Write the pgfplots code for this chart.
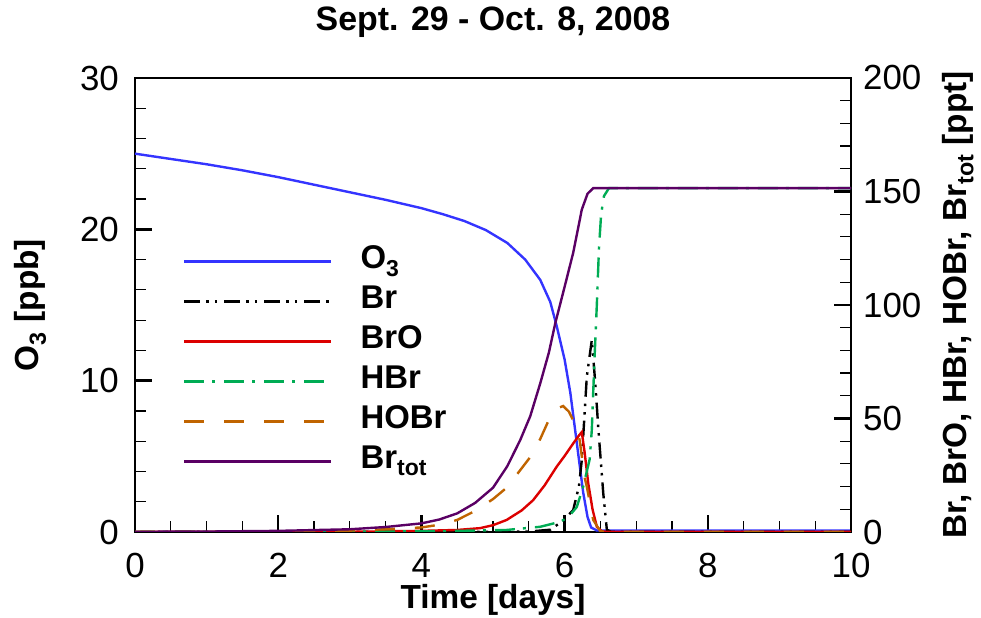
\documentclass[border=0pt]{standalone}
\usepackage{fontspec}
\setmainfont{Liberation Sans}
\usepackage{pgfplots}
\pgfplotsset{compat=1.18}
\definecolor{o3blue}{RGB}{52,52,255}
\definecolor{brored}{RGB}{220,0,0}
\definecolor{hbrgreen}{RGB}{0,172,84}
\definecolor{hobrorange}{RGB}{192,100,0}
\definecolor{brtotpurple}{RGB}{90,0,100}
\pgfplotsset{
  common/.style={
    scale only axis, width=716bp, height=454bp,
    xmin=0, xmax=10,
    /pgf/number format/assume math mode=true,
    tick label style={font=\fontsize{35}{38}\selectfont},
    label style={font=\bfseries\fontsize{33.5}{38}\selectfont},
    major tick length=17bp, minor tick length=11bp,
    every major tick/.append style={line width=2.6bp, black},
    every minor tick/.append style={line width=1.2bp, black},
    axis line style={line width=2.8bp},
    tick align=inside,
  },
  curve/.style={line width=2.4bp},
}
\begin{document}
\begin{tikzpicture}
\path[use as bounding box] (-135bp,-86bp) rectangle (846bp,532bp);
\begin{axis}[common,
  ymin=0, ymax=30,
  xtick={0,2,4,6,8,10}, ytick={0,10,20,30},
  minor x tick num=3, minor y tick num=4,
  xtick pos=bottom, ytick pos=left,
  xticklabel style={anchor=north, inner sep=0pt, yshift=-21bp},
  yticklabel style={anchor=east, inner sep=0pt, xshift=-16bp},
  xlabel={Time [days]},
  xlabel style={at={(axis description cs:0.5,0)}, anchor=center, yshift=-68bp},
  ylabel={O\textsubscript{3} [ppb]},
  ylabel style={at={(axis description cs:0,0.5)}, anchor=center, rotate=0, yshift=105bp},
  title={Sept. 29 - Oct. 8, 2008},
  title style={at={(axis description cs:0.5,1)}, anchor=center, yshift=50bp, font=\bfseries\fontsize{34}{38}\selectfont},
]
\addplot[curve, o3blue] coordinates {
(0,25.0) (0.5,24.65) (1,24.3) (1.5,23.9) (2,23.45) (2.5,22.95) (3,22.45) (3.5,21.95)
(4,21.4) (4.3,21.0) (4.6,20.55) (4.9,19.95) (5.2,19.1) (5.45,18.0) (5.66,16.66) (5.8,15.2)
(5.89,13.6) (6.0,11.4) (6.08,9.2) (6.17,5.9) (6.26,2.6) (6.32,1.0) (6.37,0.3)
(6.45,0.1) (10,0.1)};
\end{axis}
\begin{axis}[common,
  ymin=0, ymax=200,
  axis x line=none, axis y line*=right,
  ytick={0,50,100,150,200}, minor y tick num=4,
  ytick pos=right,
  yticklabel style={anchor=west, inner sep=0pt, xshift=12bp},
  ylabel={Br, BrO, HBr, HOBr, Br\textsubscript{tot} [ppt]},
  ylabel style={at={(axis description cs:1,0.5)}, anchor=center, rotate=0, yshift=-107bp},
  legend image code/.code={\draw[#1] (0bp,0bp) -- (147bp,0bp);},
  legend style={draw=none, fill=none, at={(0.067,0.64)}, anchor=north west,
    inner sep=0pt, row sep=0pt, column sep=28bp,
    font=\bfseries\fontsize{33}{38}\selectfont,
    nodes={text height=23bp, text depth=9bp, inner ysep=4bp, inner xsep=0pt},
    legend cell align=left},
]
\addlegendimage{curve, o3blue}
\addlegendentry{O\textsubscript{3}}
\addplot[curve, black, dash pattern=on 16bp off 6bp on 2.5bp off 6bp on 2.5bp off 7bp] coordinates {
(0,0.02) (5,0.05) (5.5,0.2) (5.8,1) (5.98,5) (6.03,6.7) (6.12,9.7) (6.2,20) (6.24,31.7)
(6.31,68.4) (6.38,84.6) (6.43,65) (6.47,46) (6.54,17) (6.59,1) (6.65,0.05) (10,0.05)};
\addlegendentry{Br}
\addplot[curve, brored] coordinates {
(0,0.02) (3,0.1) (4,0.5) (4.5,0.9) (4.82,1.7) (5.0,3) (5.19,5.3) (5.4,9.5) (5.56,14)
(5.72,20.5) (5.89,28.8) (6.0,33.5) (6.12,39) (6.2,42.5) (6.24,44) (6.28,35) (6.33,21.5)
(6.39,10) (6.45,2.3) (6.52,0.3) (6.6,0.05) (10,0.05)};
\addlegendentry{BrO}
\addplot[curve, hbrgreen, dash pattern=on 20bp off 8bp on 3bp off 9bp] coordinates {
(0,0.02) (3,0.1) (4,0.3) (4.5,0.5) (5.19,0.9) (5.66,2.3) (5.94,4.5) (6.05,6.5) (6.17,11)
(6.26,20) (6.35,32) (6.38,45) (6.40,62) (6.42,78) (6.45,100) (6.48,125) (6.51,140)
(6.55,148) (6.62,151.5) (10,151.5)};
\addlegendentry{HBr}
\addplot[curve, hobrorange, dash pattern=on 20bp off 20bp] coordinates {
(0,0.05) (2,0.2) (3,0.6) (3.5,1.2) (4,2.0) (4.25,3.2) (4.5,5.3) (4.75,9.3) (5.0,14.5) (5.19,19.5)
(5.35,26) (5.52,33) (5.66,41) (5.8,50.8) (5.9,54.5) (5.98,55.5) (6.06,53) (6.17,46)
(6.21,40.5) (6.28,24) (6.31,20) (6.40,5.3) (6.5,0.3) (6.6,0.05) (10,0.05)};
\addlegendentry{HOBr}
\addplot[curve, brtotpurple] coordinates {
(0,0.1) (1,0.2) (2,0.5) (3,1.2) (3.5,2.2) (4,3.8) (4.25,5.5) (4.5,8.2) (4.75,12.8) (5.0,19.5)
(5.2,29) (5.38,40.5) (5.52,51) (5.66,65.5) (5.78,79) (5.87,92) (6.0,108) (6.12,123)
(6.24,142) (6.32,149) (6.40,151.5) (10,151.5)};
\addlegendentry{Br\textsubscript{tot}}
\end{axis}
\end{tikzpicture}
\end{document}
